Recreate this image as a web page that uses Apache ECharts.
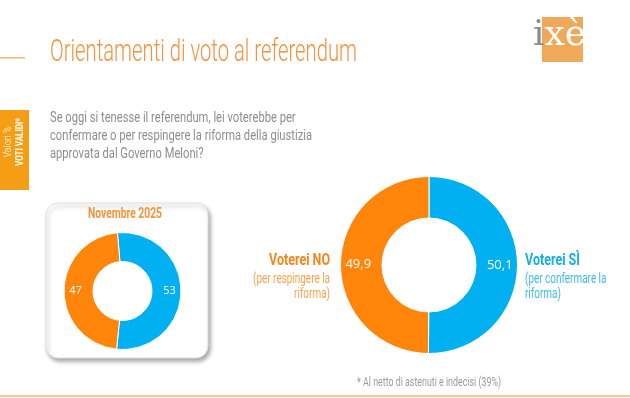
<!DOCTYPE html>
<html>
<head>
<meta charset="utf-8">
<script src="https://cdn.jsdelivr.net/npm/echarts@6/dist/echarts.min.js"></script>
<style>
html,body{margin:0;padding:0;background:#fff;}
#c{width:630px;height:398px;}
</style>
</head>
<body>
<div id="c"></div>
<script>
// ---- data ----
const categories = ['Voterei SÌ', 'Voterei NO'];
const currentValues = [50.1, 49.9];
const novemberValues = [53, 47];
const novemberLabel = 'Novembre 2025';
const titleText = 'Orientamenti di voto al referendum';
const questionLines = [
  'Se oggi si tenesse il referendum, lei voterebbe per',
  'confermare o per respingere la riforma della giustizia',
  'approvata dal Governo Meloni?'
];
const noSubLines = ['(per respingere la', 'riforma)'];
const siSubLines = ['(per confermare la', 'riforma)'];
const footnote = '* Al netto di astenuti e indecisi (39%)';
const sideLabels = ['Valori %', 'VOTI VALIDI*'];

const ORANGE = '#FF850B';
const BLUE = '#00B0F0';
const FONT = 'Roboto';

const measureCtx = document.createElement('canvas').getContext('2d');
function measure(text, size, weight) {
  measureCtx.font = (weight || 'normal') + ' ' + size + 'px ' + FONT;
  return measureCtx.measureText(text).width;
}
// condensed text: scaled horizontally
function ctext(text, x, y, size, weight, color, scale, align) {
  return {
    type: 'text',
    x: x, y: y,
    scaleX: scale, scaleY: 1,
    silent: true,
    style: {
      text: text,
      fontFamily: FONT,
      fontSize: size,
      fontWeight: weight,
      fill: color,
      align: align || 'left',
      verticalAlign: 'middle'
    }
  };
}
function fitScale(text, size, weight, targetWidth) {
  return targetWidth / measure(text, size, weight);
}

const chart = echarts.init(document.getElementById('c'), null, {renderer: 'canvas'});

const fmt = p => String(p.value).replace('.', ',');

const titleScale = fitScale(titleText, 32, 300, 307);
const qScale = fitScale(questionLines[1], 15, 'normal', 262);
const novScale = fitScale(novemberLabel, 14, 'bold', 74);
const headScale = fitScale('Voterei NO', 17, 'bold', 61);
const subScale = fitScale(noSubLines[0], 14, 'normal', 77);
const footScale = fitScale(footnote, 12, 'normal', 144);
const sideScale = fitScale(sideLabels[1], 11, 'bold', 48);

const graphics = [
  // top-left accent line
  {type: 'rect', shape: {x: 0, y: 57, width: 25, height: 1.5}, style: {fill: '#F7B57A'}, silent: true},
  // bottom line
  {type: 'rect', shape: {x: 0, y: 395, width: 630, height: 2}, style: {fill: '#FAC88E'}, silent: true},
  // left orange tag
  {type: 'rect', shape: {x: 0, y: 110, width: 29, height: 80}, style: {fill: '#F59D14'}, silent: true},
  {type: 'text', x: 8, y: 142, rotation: Math.PI / 2, scaleX: fitScale(sideLabels[0], 11, 300, 31), silent: true,
   style: {text: sideLabels[0], fontFamily: FONT, fontSize: 11, fontWeight: 300, fill: '#FFFFFF', align: 'center', verticalAlign: 'middle'}},
  {type: 'text', x: 20, y: 142, rotation: Math.PI / 2, scaleX: sideScale, silent: true,
   style: {text: sideLabels[1], fontFamily: FONT, fontSize: 11, fontWeight: 'bold', fill: '#FFFFFF', align: 'center', verticalAlign: 'middle'}},
  // logo
  {type: 'rect', shape: {x: 542, y: 17, width: 41, height: 45}, style: {fill: '#F0A95B'}, silent: true},
  {type: 'text', x: 533, y: 54, silent: true,
   style: {text: '{g|i}{w|xè}', fontFamily: 'DejaVu Serif', fontSize: 36, verticalAlign: 'bottom',
     rich: {g: {fill: '#8C8C8C', fontFamily: 'DejaVu Serif', fontSize: 36}, w: {fill: '#FFFFFF', fontFamily: 'DejaVu Serif', fontSize: 36}}}},
  // title
  ctext(titleText, 50, 53, 32, 300, '#F39240', titleScale),
  // question
  ctext(questionLines[0], 50, 118, 15, 'normal', '#8E8E8E', qScale),
  ctext(questionLines[1], 50, 136, 15, 'normal', '#8E8E8E', qScale),
  ctext(questionLines[2], 50, 154, 15, 'normal', '#8E8E8E', qScale),
  // small box
  {type: 'rect', shape: {x: 46, y: 203, width: 162, height: 155, r: 12}, z: -1, silent: true,
   style: {fill: '#FFFFFF', stroke: '#E2E2E2', lineWidth: 1, shadowBlur: 4, shadowOffsetX: 2, shadowOffsetY: 3, shadowColor: 'rgba(0,0,0,0.35)'}},
  ctext(novemberLabel, 125, 214, 14, 'bold', '#F7923A', novScale, 'center'),
  // NO label
  ctext(categories[1], 330, 261, 17, 'bold', '#F7851B', headScale, 'right'),
  ctext(noSubLines[0], 330, 279, 14, 'normal', '#F9A24F', subScale, 'right'),
  ctext(noSubLines[1], 330, 294, 14, 'normal', '#F9A24F', subScale, 'right'),
  // SI label
  ctext(categories[0], 525, 261, 17, 'bold', '#14AEE8', headScale, 'left'),
  ctext(siSubLines[0], 525, 279, 14, 'normal', '#3DBBEB', subScale, 'left'),
  ctext(siSubLines[1], 525, 294, 14, 'normal', '#3DBBEB', subScale, 'left'),
  // footnote
  ctext(footnote, 429, 383, 12, 'normal', '#9A9A9A', footScale, 'center')
];

function pieData(values) {
  return categories.map((c, i) => ({name: c, value: values[i], itemStyle: {color: i === 0 ? BLUE : ORANGE}}));
}

chart.setOption({
  animation: false,
  backgroundColor: '#FFFFFF',
  graphic: {elements: graphics},
  series: [
    {
      type: 'pie',
      center: [429, 265],
      radius: [47, 88.5],
      startAngle: 90,
      clockwise: true,
      silent: true,
      itemStyle: {borderColor: '#FFFFFF', borderWidth: 1},
      label: {show: true, position: 'inside', color: '#FFFFFF', fontSize: 13, fontFamily: 'Open Sans', formatter: fmt},
      labelLine: {show: false},
      data: pieData(currentValues)
    },
    {
      type: 'pie',
      center: [122.5, 291],
      radius: [29.5, 58.5],
      startAngle: 95,
      clockwise: true,
      silent: true,
      z: 3,
      itemStyle: {borderColor: '#FFFFFF', borderWidth: 1},
      label: {show: true, position: 'inside', color: '#FFFFFF', fontSize: 11, fontFamily: 'Open Sans', formatter: fmt},
      labelLine: {show: false},
      data: pieData(novemberValues)
    }
  ]
});
</script>
</body>
</html>
